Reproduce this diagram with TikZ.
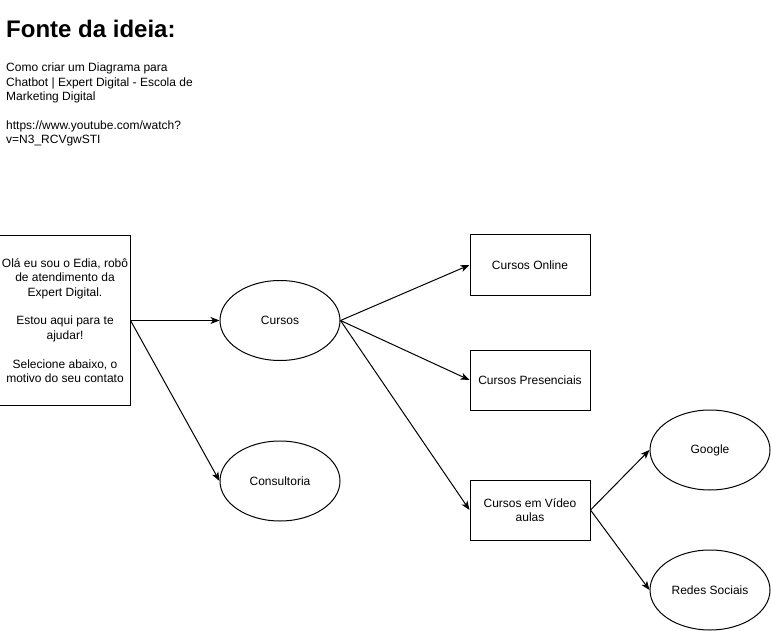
\documentclass[tikz,border=0pt]{standalone}
\usepackage{fontspec}
\setmainfont{Liberation Sans}
\usetikzlibrary{shapes.geometric,arrows.meta}
\tikzset{
  every node/.style={font=\fontsize{12}{14.4}\selectfont, text=black},
  boxnode/.style={draw, line width=1pt, rectangle, minimum width=120pt, minimum height=60pt, inner sep=2pt, align=center},
  ellnode/.style={draw, line width=1pt, ellipse, minimum width=120pt, minimum height=80pt, inner sep=0pt, align=center},
  conn/.style={line width=1pt, -{Stealth[length=9pt,width=7pt,inset=2.5pt]}},
}
\begin{document}
\begin{tikzpicture}[x=1pt,y=-1pt]
\useasboundingbox (0,0) rectangle (771,631);
\node[anchor=base west, inner sep=0pt, font=\fontsize{24}{28}\selectfont\bfseries] (title) at (6,37.5) {Fonte da ideia:};
\node[anchor=north west, inner sep=0pt, align=left] (src) at (6,62.8) {Como criar um Diagrama para\\Chatbot | Expert Digital - Escola de\\Marketing Digital\\[14.4pt]https://www.youtube.com/watch?\\v=N3\_RCVgwSTI};
\node[boxnode, minimum width=130pt, minimum height=170pt] (start) at (65,320.5) {Olá eu sou o Edia, robô\\de atendimento da\\Expert Digital.\\[14.4pt]Estou aqui para te\\ajudar!\\[14.4pt]Selecione abaixo, o\\motivo do seu contato};
\node[ellnode] (cursos) at (280,320.5) {Cursos};
\node[ellnode] (consult) at (280,481) {Consultoria};
\node[boxnode] (online) at (530,265) {Cursos Online};
\node[boxnode] (presen) at (530,380) {Cursos Presenciais};
\node[boxnode] (video) at (530,510) {Cursos em Vídeo\\aulas};
\node[ellnode] (google) at (710,450) {Google};
\node[ellnode] (redes) at (710,590) {Redes Sociais};
\draw[conn] (start.east) -- (cursos.west);
\draw[conn] (start.east) -- (consult.west);
\draw[conn] (cursos.east) -- (online.west);
\draw[conn] (cursos.east) -- (presen.west);
\draw[conn] (cursos.east) -- (video.west);
\draw[conn] (video.east) -- (google.west);
\draw[conn] (video.east) -- (redes.west);
\end{tikzpicture}
\end{document}
